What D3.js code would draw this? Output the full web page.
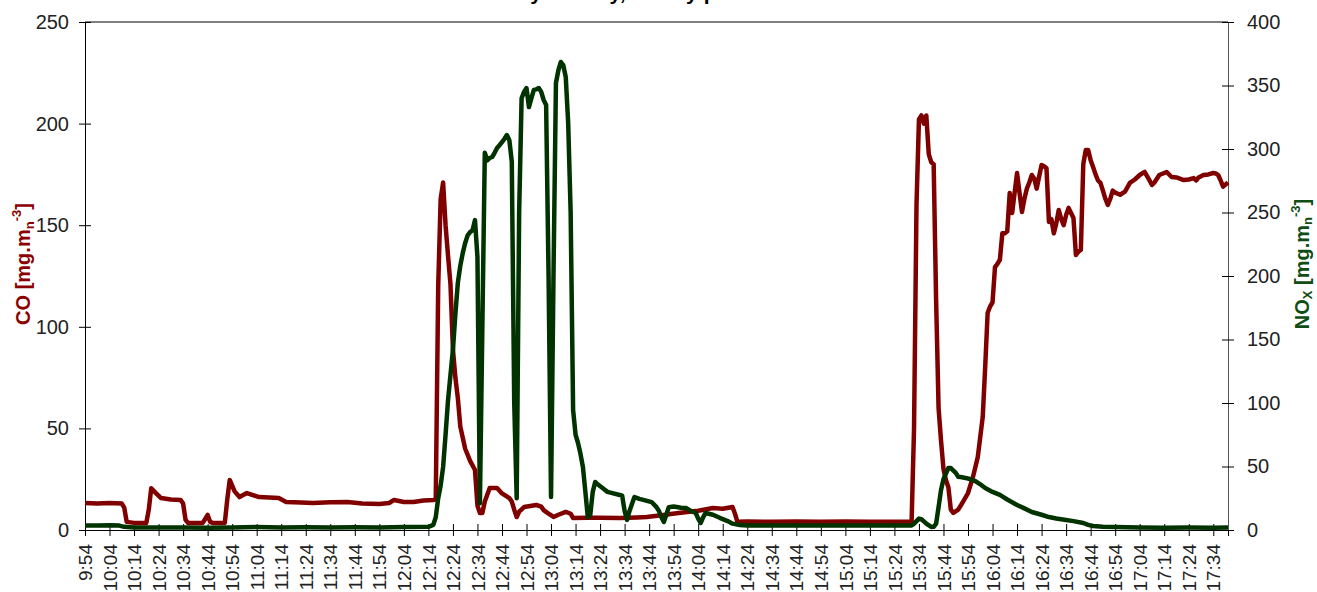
<!DOCTYPE html>
<html>
<head>
<meta charset="utf-8">
<script src="https://cdn.jsdelivr.net/npm/d3@7"></script>
<style>
  body { margin: 0; background: #fff; }
  svg text { font-family: "Liberation Sans", Arial, sans-serif; }
</style>
</head>
<body>
<div id="chart"></div>
<script>
// measurement start, every tick is 10 minutes
const startTime = "9:54";
const endTime = "17:40";

// CO [mg.mn-3]  (time, value)
const coTimes = ["9:54","9:59","10:04","10:09","10:10","10:11","10:14","10:19","10:20","10:21","10:23","10:25","10:29","10:33","10:34","10:35","10:36","10:42","10:44","10:45","10:46","10:51","10:52","10:53","10:55","10:57","11:00","11:05","11:09","11:13","11:16","11:22","11:27","11:34","11:41","11:47","11:54","11:58","12:00","12:04","12:08","12:12","12:16","12:17","12:18","12:19","12:20","12:21","12:22","12:23","12:24","12:25","12:26","12:27","12:29","12:31","12:33","12:34","12:35","12:36","12:37","12:39","12:42","12:44","12:47","12:48","12:49","12:50","12:51","12:53","12:58","13:00","13:01","13:03","13:05","13:07","13:10","13:12","13:13","13:19","13:24","13:32","13:39","13:43","13:49","13:56","14:04","14:10","14:14","14:18","14:19","14:20","14:24","14:34","14:44","14:54","15:04","15:14","15:24","15:31","15:32","15:33","15:34","15:35","15:36","15:37","15:38","15:39","15:40","15:41","15:42","15:43","15:44","15:45","15:46","15:47","15:48","15:50","15:52","15:54","15:56","15:58","16:00","16:01","16:02","16:03","16:04","16:05","16:06","16:07","16:08","16:09","16:10","16:11","16:12","16:13","16:14","16:15","16:16","16:17","16:18","16:19","16:20","16:21","16:22","16:23","16:24","16:25","16:26","16:27","16:28","16:29","16:30","16:31","16:32","16:33","16:34","16:35","16:36","16:37","16:38","16:39","16:40","16:41","16:42","16:43","16:44","16:45","16:46","16:47","16:48","16:49","16:50","16:51","16:52","16:53","16:54","16:56","16:58","17:00","17:02","17:04","17:06","17:08","17:09","17:10","17:12","17:15","17:17","17:19","17:22","17:24","17:26","17:27","17:28","17:30","17:32","17:34","17:35","17:36","17:37","17:38","17:39","17:40"];
const coValues = [13.3,13,13.3,13,11,4,3.5,3.5,10,20.5,18,15.7,15,14.8,13,5,3.5,3.5,7.4,4,3.5,3.5,15,24.6,19,16.2,18.2,16.2,16,15.7,13.8,13.5,13.3,13.6,13.8,13,12.8,13.3,14.8,13.8,13.8,14.5,14.8,15,120,163,171,150,135,121,89,75,65,51,40,34,29.5,12,8.4,8.4,14,20.7,20.7,18,15.7,14,10,6.4,9,11.3,12.3,11.5,9.8,8,6.4,7.5,8.9,8,5.9,6,6,5.9,6.2,6.4,7.3,8.4,9.5,10.8,10.5,11.3,8,4,4.2,4,4.2,4,4.2,4,4,4,50,160,202,204,200,204,185,181,180,113,60,44,30,24.6,21,10,8.4,10,14,18.2,26,36,55.6,80,106.8,110,112,129.4,131,133,146,146,147,165.8,156,166,175.7,166,156.5,163,168,171,174.7,173,168,174,179.6,179,178,151.6,153,146,151,157.5,153,150,155,158.5,156,153.5,135.3,137,137.8,180,187,187,182,178.6,175,172,170.8,167,163,160,163,167,166,165,166.5,170.8,172.5,174.7,176.2,172,169.8,171,174.7,176.2,173.7,173.5,172.2,172.5,173.2,172,173.5,174.7,175,175.7,175.5,174.7,172,169,170,171];

// NOx [mg.mn-3]  (time, value)
const noxTimes = ["9:54","9:59","10:04","10:08","10:10","10:14","10:24","10:34","10:44","10:54","11:04","11:14","11:24","11:34","11:44","11:54","12:04","12:14","12:16","12:17","12:18","12:19","12:20","12:21","12:22","12:23","12:24","12:25","12:26","12:27","12:28","12:29","12:30","12:31","12:32","12:33","12:34","12:35","12:36","12:37","12:38","12:39","12:40","12:41","12:42","12:43","12:44","12:45","12:46","12:47","12:48","12:49","12:50","12:51","12:52","12:53","12:54","12:55","12:56","12:57","12:58","12:59","13:00","13:01","13:02","13:03","13:04","13:05","13:06","13:07","13:08","13:09","13:10","13:11","13:12","13:13","13:14","13:15","13:16","13:17","13:18","13:19","13:20","13:21","13:22","13:23","13:25","13:27","13:29","13:32","13:33","13:34","13:35","13:36","13:38","13:40","13:42","13:45","13:47","13:48","13:49","13:50","13:51","13:52","13:54","13:57","13:59","14:01","14:03","14:04","14:05","14:06","14:07","14:10","14:13","14:16","14:18","14:21","14:24","14:44","15:04","15:24","15:31","15:32","15:34","15:35","15:37","15:39","15:40","15:41","15:42","15:43","15:44","15:46","15:47","15:49","15:50","15:51","15:53","15:55","15:57","15:59","16:01","16:04","16:07","16:10","16:14","16:17","16:20","16:24","16:27","16:30","16:34","16:37","16:41","16:43","16:45","16:49","16:54","17:04","17:14","17:24","17:34","17:40"];
const noxValues = [3.5,3.5,3.8,3.5,2.5,2,2,2,1.8,2,2.3,2,2.2,2,2.2,2,2.3,2.5,4,10,25,35,49.6,75,102,122,141.7,170,194.5,208,218,226,232,234.6,236,244,215,21,160,297,291,293,293.7,297,300.8,303,305.5,308,311,307,290,100,25,250,340,345,348,333,340,346.5,347,348,345,338.6,334.6,200,26,200,352,362,368.5,366,356.7,320,250,94.5,75,68.5,60,49.6,30,10,12,30,37.8,36,33,30,29,27.6,27,15,8,15,26,24.5,23.5,22,18,15,10,6.3,12,18,18.5,17.5,17.3,15,13.4,9,5.5,10,13.4,12,9.4,7,5,3.9,3.5,3.5,3.5,3.5,3.5,5,9,8.5,5,2.4,2.5,5,18,31.5,40,48.8,48.8,45,42,41.7,41,40,38.5,36,33,30,27.6,24,19.7,17,14.2,12,10.2,9,7.9,7,5.5,4,3.1,2.5,2.4,2,1.8,2,1.8,2];

const coTicks = [0, 50, 100, 150, 200, 250];
const noxTicks = [0, 50, 100, 150, 200, 250, 300, 350, 400];

const chartTitle = "CO and NOx emissions by the day, woody pellets";

const W = 1317, H = 592;
const plotL = 85, plotR = 1228, plotT = 22, plotB = 530;
const coColor = "#800000", noxColor = "#003300";

function toMin(t) {
    const p = t.split(":");
    return +p[0] * 60 + +p[1];
}
const t0 = toMin(startTime);
const minutes = t => toMin(t) - t0;
function fmt(m) {
    const a = t0 + m;
    return Math.floor(a / 60) + ":" + String(a % 60).padStart(2, "0");
}

const coData = coTimes.map((t, i) => ({ m: minutes(t), v: coValues[i] }));
const noxData = noxTimes.map((t, i) => ({ m: minutes(t), v: noxValues[i] }));

const svg = d3.select("#chart").append("svg")
    .attr("width", W)
    .attr("height", H);

const x = d3.scaleLinear().domain([0, minutes(endTime)]).range([plotL, plotR]);
const yCO = d3.scaleLinear().domain([0, 250]).range([plotB, plotT]);
const yNOx = d3.scaleLinear().domain([0, 400]).range([plotB, plotT]);

// title (only its lower edge is inside the picture)
const title = svg.append("text")
    .attr("x", 0).attr("y", 0)
    .attr("font-weight", "bold")
    .attr("font-size", 21)
    .attr("fill", "#000")
    .text(chartTitle);
// line the first "y" up with where it sits in the original
const iy = chartTitle.indexOf("y");
const tn = title.node();
const yMid = tn.getStartPositionOfChar(iy).x + tn.getSubStringLength(iy, 1) / 2;
title.attr("x", 536 - yMid);

// top border of the plot
svg.append("line")
    .attr("x1", plotL).attr("x2", plotR)
    .attr("y1", plotT).attr("y2", plotT)
    .attr("stroke", "#7f7f7f").attr("stroke-width", 2);

// left axis CO
const gL = svg.append("g")
    .attr("transform", "translate(" + plotL + ",0)")
    .call(d3.axisLeft(yCO).tickValues(coTicks).tickSize(6).tickPadding(10));
gL.selectAll(".tick line").attr("x1", 6);
gL.selectAll("text").attr("font-size", 20).attr("fill", "#222");

// right axis NOx
const gR = svg.append("g")
    .attr("transform", "translate(" + plotR + ",0)")
    .call(d3.axisRight(yNOx).tickValues(noxTicks).tickSize(6).tickPadding(13));
gR.selectAll(".tick line").attr("x1", -6);
gR.select(".domain").attr("stroke", "#555");
gR.selectAll("text").attr("font-size", 20).attr("fill", "#222");

// x axis, every 10 minutes
const xTicks = d3.range(0, minutes(endTime) + 1, 10);
const gB = svg.append("g")
    .attr("transform", "translate(0," + plotB + ")")
    .call(d3.axisBottom(x).tickValues(xTicks).tickFormat(fmt).tickSize(6));
gB.selectAll(".tick line").attr("y1", -6);
gB.selectAll("text")
    .attr("font-size", 19)
    .attr("fill", "#222")
    .attr("transform", "rotate(-90)")
    .attr("text-anchor", "end")
    .attr("x", -14).attr("y", 0).attr("dy", "0.35em");

// lines
const coLine = d3.line().x(d => x(d.m)).y(d => yCO(d.v));
const noxLine = d3.line().x(d => x(d.m)).y(d => yNOx(d.v));

svg.append("path")
    .attr("d", coLine(coData))
    .attr("fill", "none")
    .attr("stroke", coColor)
    .attr("stroke-width", 4.5)
    .attr("stroke-linejoin", "round");

svg.append("path")
    .attr("d", noxLine(noxData))
    .attr("fill", "none")
    .attr("stroke", noxColor)
    .attr("stroke-width", 4.5)
    .attr("stroke-linejoin", "round");

// axis titles
const tL = svg.append("text")
    .attr("transform", "translate(30,264) rotate(-90)")
    .attr("text-anchor", "middle")
    .attr("font-weight", "bold")
    .attr("font-size", 20)
    .attr("fill", "#8b0000");
tL.append("tspan").text("CO [mg.m");
tL.append("tspan").attr("font-size", 13).attr("dy", 4).text("n");
tL.append("tspan").attr("font-size", 13).attr("dy", -13).text("-3");
tL.append("tspan").attr("dy", 9).text("]");

const tR = svg.append("text")
    .attr("transform", "translate(1309,264) rotate(-90)")
    .attr("text-anchor", "middle")
    .attr("font-weight", "bold")
    .attr("font-size", 20)
    .attr("fill", "#0f4d14");
tR.append("tspan").text("NO");
tR.append("tspan").attr("font-size", 13).attr("dy", 3).text("X");
tR.append("tspan").attr("dy", -3).text(" [mg.m");
tR.append("tspan").attr("font-size", 13).attr("dy", 3).text("n");
tR.append("tspan").attr("font-size", 13).attr("dy", -12).text("-3");
tR.append("tspan").attr("dy", 9).text("]");
</script>
</body>
</html>
